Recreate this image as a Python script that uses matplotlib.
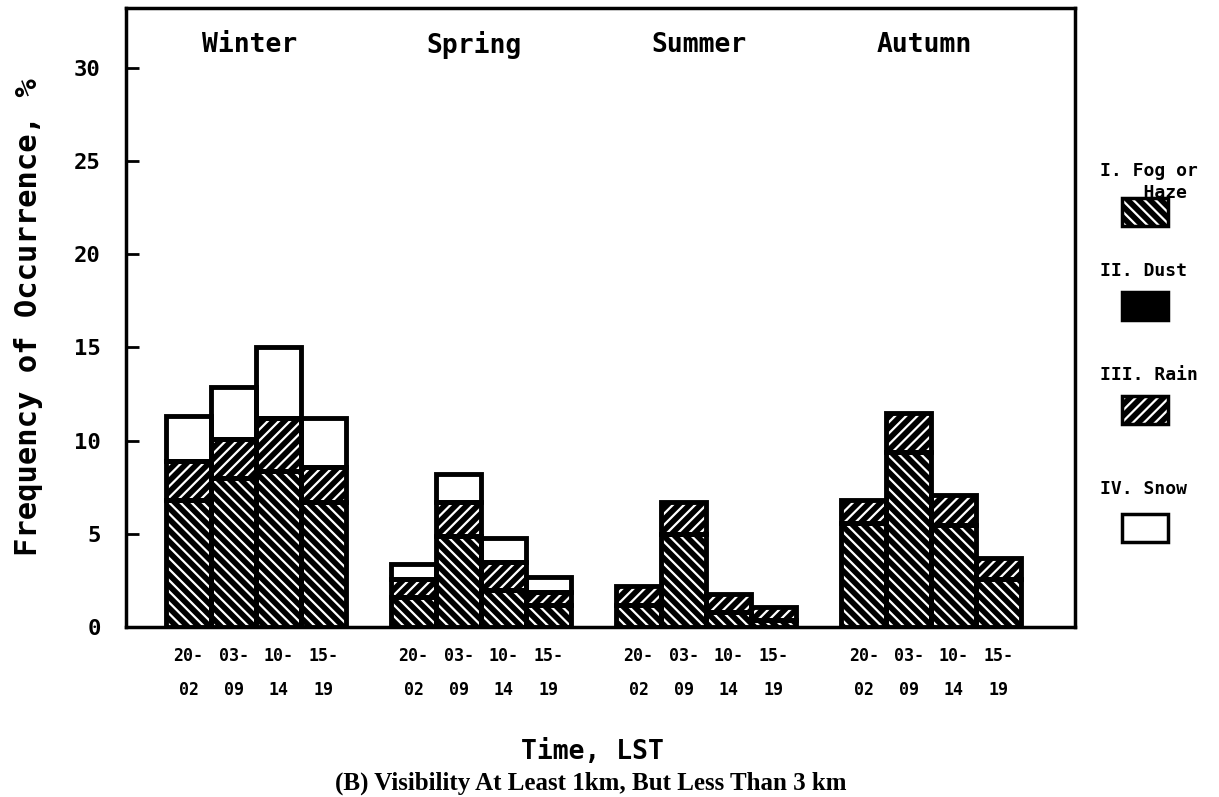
import numpy as np
import matplotlib.pyplot as plt
from matplotlib.patches import Rectangle

# Data (stacked components, % frequency)
seasons = ['Winter', 'Spring', 'Summer', 'Autumn']
times = ['20-\n02', '03-\n09', '10-\n14', '15-\n19']

fog = [6.8, 8.0, 8.4, 6.7,
       1.6, 4.9, 2.0, 1.2,
       1.2, 5.0, 0.8, 0.4,
       5.6, 9.4, 5.5, 2.6]
dust = [0.0] * 16
rain = [2.1, 2.1, 2.8, 1.9,
        1.0, 1.8, 1.5, 0.7,
        1.0, 1.7, 1.0, 0.7,
        1.2, 2.1, 1.6, 1.1]
snow = [2.4, 2.8, 3.8, 2.6,
        0.8, 1.5, 1.3, 0.8,
        0.0, 0.0, 0.0, 0.0,
        0.0, 0.0, 0.0, 0.0]

legend_labels = ['I. Fog or\n    Haze', 'II. Dust', 'III. Rain', 'IV. Snow']

plt.rcParams['hatch.linewidth'] = 1.6
mono = 'DejaVu Sans Mono'

# x positions: 4 bars per season, one empty slot between seasons
x = np.array([g * 5 + i for g in range(4) for i in range(4)], dtype=float)

fig = plt.figure(figsize=(12.19, 7.97), dpi=100)
ax = fig.add_axes([0.103, 0.213, 0.779, 0.777])

fog = np.array(fog)
dust = np.array(dust)
rain = np.array(rain)
snow = np.array(snow)

b_dust = fog
b_rain = fog + dust
b_snow = fog + dust + rain

# hatched fills: black background with white stripes
ax.bar(x, fog, width=1.0, color='black', edgecolor='white', hatch='\\\\\\', linewidth=0)
ax.bar(x, dust, width=1.0, bottom=b_dust, color='black', linewidth=0)
ax.bar(x, rain, width=1.0, bottom=b_rain, color='black', edgecolor='white', hatch='///', linewidth=0)
ax.bar(x, snow, width=1.0, bottom=b_snow, color='white', linewidth=0)

# outlines
for vals, bot in [(fog, 0), (dust, b_dust), (rain, b_rain), (snow, b_snow)]:
    m = vals > 0
    ax.bar(x[m], vals[m], width=1.0, bottom=np.broadcast_to(bot, vals.shape)[m],
           fill=False, edgecolor='black', linewidth=3.5)

ax.set_xlim(-1.4, 19.7)
ax.set_ylim(0, 33.2)

ax.set_yticks([0, 5, 10, 15, 20, 25, 30])
ax.set_yticklabels(['0', '5', '10', '15', '20', '25', '30'],
                   fontfamily=mono, fontweight='bold', fontsize=16)
ax.tick_params(axis='y', direction='in', length=9, width=2, pad=18)

ax.set_xticks(x)
ax.set_xticklabels(times * 4, fontfamily=mono, fontweight='bold', fontsize=12,
                   linespacing=2.2)
ax.tick_params(axis='x', length=0, pad=14)

for s in ax.spines.values():
    s.set_linewidth(2.5)

for g, name in enumerate(seasons):
    ax.text(g * 5 + 1.35, 31.2, name, ha='center', va='center',
            fontfamily=mono, fontweight='bold', fontsize=19)

ax.set_ylabel('Frequency of Occurrence, %', fontfamily=mono, fontweight='bold',
              fontsize=22, labelpad=22)

H = 797.0
W = 1219.0
fig.text(592 / W, 1 - 752 / H, 'Time, LST', ha='center', va='center',
         fontfamily=mono, fontweight='bold', fontsize=19)
fig.text(591 / W, 1 - 783 / H, '(B) Visibility At Least 1km, But Less Than 3 km',
         ha='center', va='center', fontfamily='Liberation Serif',
         fontweight='bold', fontsize=18)

# legend drawn on the right side
leg_label_y = [162, 262, 366, 480]
leg_box_y = [198, 292, 396, 514]
styles = [dict(facecolor='black', edgecolor='white', hatch='\\\\\\'),
          dict(facecolor='black', edgecolor='black'),
          dict(facecolor='black', edgecolor='white', hatch='///'),
          dict(facecolor='white', edgecolor='black')]
for lab, ly, by, st in zip(legend_labels, leg_label_y, leg_box_y, styles):
    fig.text(1100 / W, 1 - ly / H, lab, ha='left', va='top', fontfamily=mono,
             fontweight='bold', fontsize=13, linespacing=1.3)
    r = Rectangle((1122 / W, 1 - (by + 28) / H), 46 / W, 28 / H,
                  transform=fig.transFigure, linewidth=0, **st)
    fig.add_artist(r)
    fig.add_artist(Rectangle((1122 / W, 1 - (by + 28) / H), 46 / W, 28 / H,
                             transform=fig.transFigure, fill=False,
                             edgecolor='black', linewidth=2.5))

fig.savefig('out.png', dpi=100)
